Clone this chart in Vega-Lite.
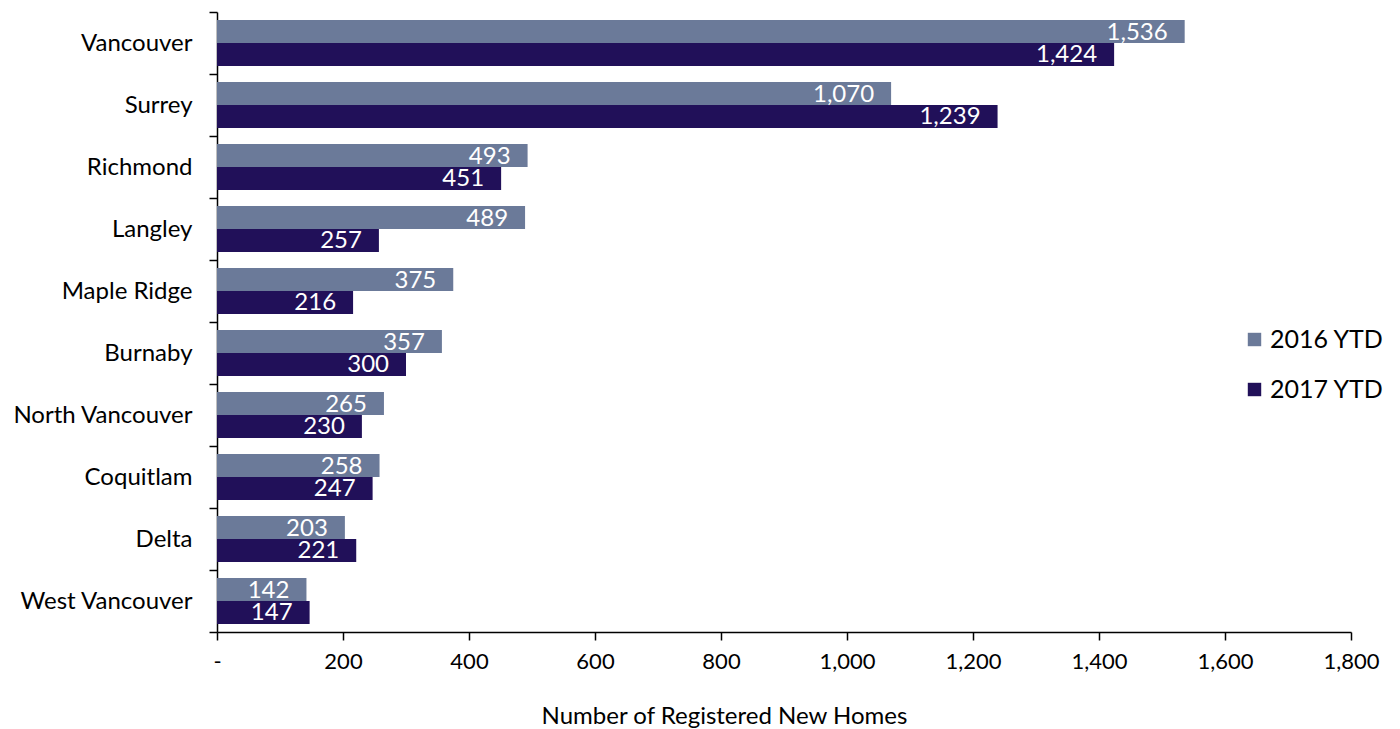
{
  "$schema": "https://vega.github.io/schema/vega-lite/v6.json",
  "width": 1134,
  "height": 620,
  "autosize": {"type": "none"},
  "padding": {"left": 217, "top": 12, "right": 49, "bottom": 97},
  "background": "white",
  "config": {
    "font": "Lato",
    "view": {"stroke": null},
    "axis": {"labelFont": "Lato", "titleFont": "Lato", "domainColor": "black", "tickColor": "black", "labelColor": "black", "titleColor": "black", "grid": false, "domainWidth": 1.5, "tickWidth": 1.5},
    "legend": {"labelFont": "Lato"}
  },
  "data": {
    "values": [
      {"city": "Vancouver", "year": "2016 YTD", "value": 1536},
      {"city": "Vancouver", "year": "2017 YTD", "value": 1424},
      {"city": "Surrey", "year": "2016 YTD", "value": 1070},
      {"city": "Surrey", "year": "2017 YTD", "value": 1239},
      {"city": "Richmond", "year": "2016 YTD", "value": 493},
      {"city": "Richmond", "year": "2017 YTD", "value": 451},
      {"city": "Langley", "year": "2016 YTD", "value": 489},
      {"city": "Langley", "year": "2017 YTD", "value": 257},
      {"city": "Maple Ridge", "year": "2016 YTD", "value": 375},
      {"city": "Maple Ridge", "year": "2017 YTD", "value": 216},
      {"city": "Burnaby", "year": "2016 YTD", "value": 357},
      {"city": "Burnaby", "year": "2017 YTD", "value": 300},
      {"city": "North Vancouver", "year": "2016 YTD", "value": 265},
      {"city": "North Vancouver", "year": "2017 YTD", "value": 230},
      {"city": "Coquitlam", "year": "2016 YTD", "value": 258},
      {"city": "Coquitlam", "year": "2017 YTD", "value": 247},
      {"city": "Delta", "year": "2016 YTD", "value": 203},
      {"city": "Delta", "year": "2017 YTD", "value": 221},
      {"city": "West Vancouver", "year": "2016 YTD", "value": 142},
      {"city": "West Vancouver", "year": "2017 YTD", "value": 147}
    ]
  },
  "encoding": {
    "y": {
      "field": "city",
      "type": "nominal",
      "sort": null,
      "scale": {"paddingInner": 0, "paddingOuter": 0},
      "axis": {"title": null, "tickBand": "extent", "tickSize": 8, "labelFontSize": 24, "labelPadding": 17, "labelLimit": 300}
    },
    "yOffset": {
      "field": "year",
      "type": "nominal",
      "scale": {"paddingInner": 0, "paddingOuter": 0.35}
    },
    "x": {
      "field": "value",
      "type": "quantitative",
      "scale": {"domain": [0, 1800], "nice": false},
      "axis": {
        "values": [0, 200, 400, 600, 800, 1000, 1200, 1400, 1600, 1800],
        "labelExpr": "datum.value == 0 ? '-' : format(datum.value, ',')",
        "labelFlush": false,
        "labelOverlap": false,
        "tickSize": 8,
        "labelFontSize": 22,
        "labelPadding": 11,
        "title": "Number of Registered New Homes",
        "titleFontSize": 24,
        "titleFontWeight": "normal",
        "titlePadding": 32,
        "titleX": 507
      }
    }
  },
  "layer": [
    {
      "mark": {"type": "bar"},
      "encoding": {
        "color": {
          "field": "year",
          "type": "nominal",
          "scale": {"domain": ["2016 YTD", "2017 YTD"], "range": ["#6B7A99", "#211059"]},
          "legend": {
            "title": null,
            "orient": "none",
            "legendX": 1025,
            "legendY": 315,
            "symbolType": "square",
            "symbolSize": 180,
            "symbolStrokeWidth": 0,
            "labelFontSize": 25,
            "labelColor": "black",
            "rowPadding": 24,
            "labelOffset": 3
          }
        }
      }
    },
    {
      "mark": {"type": "text", "align": "right", "baseline": "middle", "dx": -17, "dy": 1, "color": "white", "fontSize": 24},
      "encoding": {
        "text": {"field": "value", "type": "quantitative", "format": ","}
      }
    }
  ]
}
